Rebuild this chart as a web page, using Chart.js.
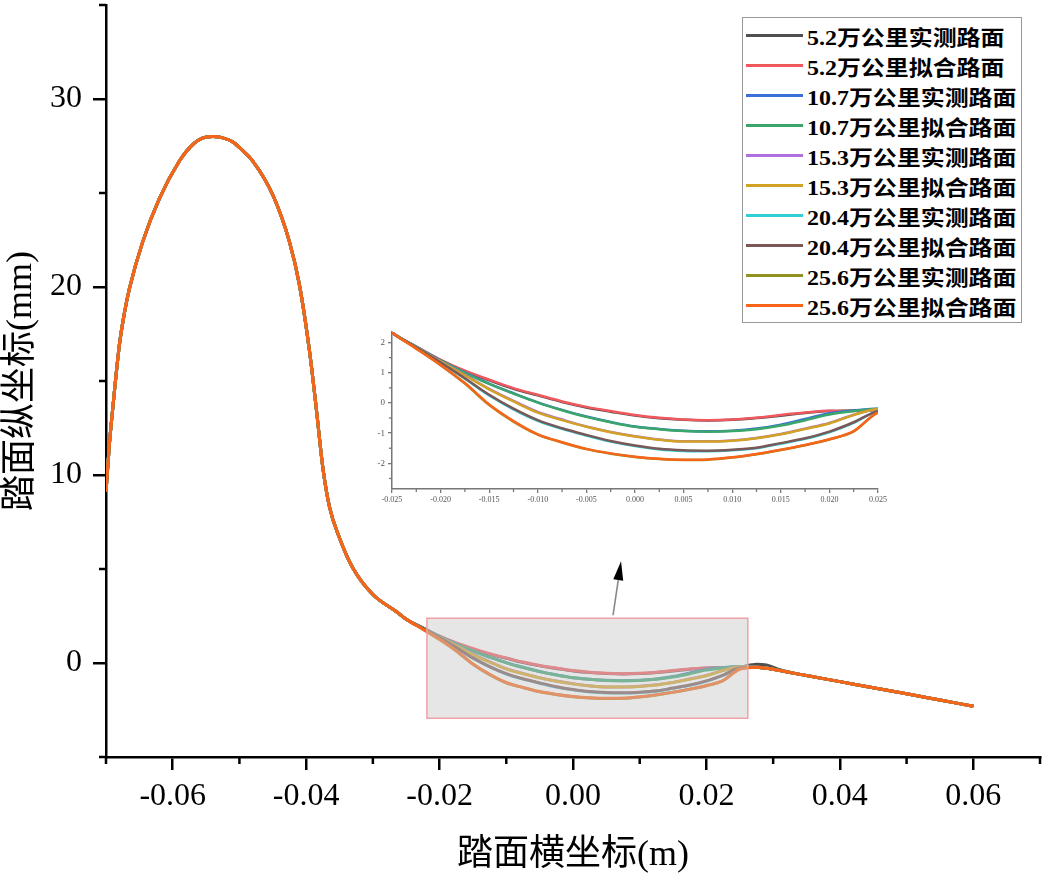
<!DOCTYPE html>
<html>
<head>
<meta charset="utf-8">
<script src="https://cdn.jsdelivr.net/npm/chart.js@4.4.1/dist/chart.umd.min.js"></script>
<style>
    html, body { margin: 0; padding: 0; background: #fff; }
    #wrap { position: relative; width: 1042px; height: 875px; overflow: hidden; }
    #mainChart { position: absolute; left: 0; top: 0; }
    #insetChart { position: absolute; left: 360px; top: 325px; }
    #legend {
        position: absolute; left: 742px; top: 17px; width: 280px; height: 306px;
        border: 1.5px solid #999; background: #fff; box-sizing: border-box;
    }
    #legend .row { position: absolute; left: 0; height: 30px; width: 100%; }
    #legend .swatch { position: absolute; left: 3px; top: 13px; width: 57px; height: 3px; }
    #legend .text {
        position: absolute; left: 64px; top: 0; line-height: 30px; white-space: nowrap;
        font: bold 21px 'Liberation Serif', 'Noto Sans CJK SC', serif; color: #000;
        transform: scaleX(1.14); transform-origin: left center;
    }
</style>
</head>
<body>
<div id="wrap">
    <canvas id="mainChart" width="1042" height="875"></canvas>
    <canvas id="insetChart" width="530" height="190"></canvas>
    <div id="legend"></div>
</div>
<script>
// series names and colours (measured / fitted pairs)
const seriesLabels = [
    '5.2万公里实测路面', '5.2万公里拟合路面',
    '10.7万公里实测路面', '10.7万公里拟合路面',
    '15.3万公里实测路面', '15.3万公里拟合路面',
    '20.4万公里实测路面', '20.4万公里拟合路面',
    '25.6万公里实测路面', '25.6万公里拟合路面'
];
const seriesColors = [
    '#4f4f4f', '#f0585e', '#3a6fd8', '#3aa66a', '#b070e0',
    '#d2a224', '#30cfd8', '#7a5858', '#929222', '#f8641a'
];

// flange part, common to all profiles (x in m, y in mm)
const profileX = [-0.0700, -0.0695, -0.0690, -0.0680, -0.06725, -0.0665, -0.0645, -0.0620, -0.0590,
    -0.0575, -0.0560, -0.0540, -0.0525, -0.0510, -0.0495, -0.0480, -0.0450, -0.0425, -0.0410, -0.0395,
    -0.0385, -0.0375, -0.0365, -0.0350, -0.0330, -0.0300, -0.0265];
const profileY = [9.1, 11.6, 13.5, 16.9, 18.6, 19.9, 22.4, 24.7, 26.7,
    27.4, 27.84, 28.0, 27.93, 27.72, 27.25, 26.7, 24.9, 22.4, 20.1, 16.6,
    13.6, 10.4, 8.3, 6.65, 5.05, 3.64, 2.74];

// worn tread zone
const wearX = [-0.0250, -0.0225, -0.0200, -0.0175, -0.0150, -0.0125, -0.0100, -0.0075, -0.0050, -0.0025,
    0.0000, 0.0025, 0.0050, 0.0075, 0.0100, 0.0125, 0.0150, 0.0175, 0.0200, 0.0225, 0.0250];
const wear52Measured = [2.33, 1.86, 1.42, 1.05, 0.75, 0.47, 0.25, 0.03, -0.15, -0.29,
    -0.42, -0.51, -0.56, -0.58, -0.56, -0.50, -0.42, -0.33, -0.27, -0.25, -0.22];
const wear52Fitted = [2.33, 1.87, 1.43, 1.07, 0.77, 0.49, 0.27, 0.05, -0.13, -0.27,
    -0.40, -0.49, -0.55, -0.57, -0.55, -0.49, -0.40, -0.32, -0.26, -0.27, -0.24];
const wear107Measured = [2.33, 1.86, 1.41, 1.01, 0.64, 0.32, 0.02, -0.23, -0.45, -0.63,
    -0.78, -0.86, -0.92, -0.94, -0.92, -0.85, -0.72, -0.53, -0.34, -0.25, -0.19];
const wear107Fitted = [2.33, 1.86, 1.40, 1.00, 0.63, 0.31, 0.01, -0.24, -0.46, -0.64,
    -0.79, -0.87, -0.93, -0.95, -0.93, -0.87, -0.75, -0.57, -0.38, -0.27, -0.19];
const wear153Measured = [2.33, 1.85, 1.38, 0.93, 0.47, 0.07, -0.30, -0.55, -0.78, -0.96,
    -1.10, -1.21, -1.27, -1.27, -1.24, -1.16, -1.03, -0.85, -0.66, -0.39, -0.21];
const wear153Fitted = [2.33, 1.85, 1.37, 0.91, 0.45, 0.05, -0.32, -0.57, -0.79, -0.97,
    -1.11, -1.22, -1.28, -1.28, -1.25, -1.17, -1.04, -0.86, -0.68, -0.40, -0.21];
const wear204Measured = [2.33, 1.84, 1.33, 0.80, 0.25, -0.21, -0.59, -0.86, -1.08, -1.28,
    -1.43, -1.54, -1.59, -1.60, -1.57, -1.50, -1.35, -1.19, -0.97, -0.66, -0.27];
const wear204Fitted = [2.33, 1.84, 1.34, 0.82, 0.27, -0.19, -0.57, -0.84, -1.06, -1.26,
    -1.41, -1.52, -1.57, -1.58, -1.55, -1.48, -1.33, -1.17, -0.95, -0.64, -0.27];
const wear256Measured = [2.33, 1.80, 1.25, 0.64, -0.07, -0.62, -1.05, -1.31, -1.53, -1.68,
    -1.79, -1.86, -1.89, -1.88, -1.81, -1.70, -1.56, -1.40, -1.21, -0.94, -0.32];
const wear256Fitted = [2.33, 1.80, 1.26, 0.66, -0.05, -0.60, -1.04, -1.30, -1.52, -1.67,
    -1.78, -1.85, -1.88, -1.87, -1.80, -1.69, -1.55, -1.39, -1.20, -0.93, -0.32];

// field side after the worn zone
const tailX = [0.0275, 0.0290, 0.0310, 0.0350, 0.0400, 0.0450, 0.0500, 0.0550, 0.0600];
const tailY = [-0.22, -0.28, -0.40, -0.67, -0.99, -1.32, -1.64, -1.97, -2.30];
const tail52Measured = [-0.07, -0.10, -0.36, -0.67, -0.99, -1.32, -1.64, -1.97, -2.30];

const wearSeries = [wear52Measured, wear52Fitted, wear107Measured, wear107Fitted, wear153Measured,
    wear153Fitted, wear204Measured, wear204Fitted, wear256Measured, wear256Fitted];
const tailSeries = [tail52Measured, tailY, tailY, tailY, tailY, tailY, tailY, tailY, tailY, tailY];

// axis ticks
const xMajorTicks = [-0.06, -0.04, -0.02, 0, 0.02, 0.04, 0.06];
const xMinorTicks = [-0.07, -0.05, -0.03, -0.01, 0.01, 0.03, 0.05, 0.07];
const yMajorTicks = [0, 10, 20, 30];
const yMinorTicks = [-5, 5, 15, 25, 35];
const insetXTicks = [-0.025, -0.02, -0.015, -0.01, -0.005, 0, 0.005, 0.01, 0.015, 0.02, 0.025];
const insetXMinor = [-0.0225, -0.0175, -0.0125, -0.0075, -0.0025, 0.0025, 0.0075, 0.0125, 0.0175, 0.0225];
const insetYTicks = [-2, -1, 0, 1, 2];
const insetYMinor = [-2.5, -1.5, -0.5, 0.5, 1.5];

// zoom frame and arrow, in data units of the main chart
const zoomBox = { xMin: -0.0219, xMax: 0.0262, yMin: -2.94, yMax: 2.38 };
const zoomArrow = { x0: 0.0060, y0: 2.54, x1: 0.0072, y1: 5.41 };

const serif = "'Liberation Serif', 'Noto Sans CJK SC', serif";

function buildPoints(i) {
    const xs = profileX.concat(wearX, tailX);
    const ys = profileY.concat(wearSeries[i], tailSeries[i]);
    return xs.map((x, k) => ({ x: x, y: ys[k] }));
}

function buildDatasets(width) {
    return seriesLabels.map((label, i) => ({
        label: label,
        data: buildPoints(i),
        borderColor: seriesColors[i],
        backgroundColor: seriesColors[i],
        borderWidth: width,
        pointRadius: 0,
        fill: false,
        cubicInterpolationMode: 'monotone',
        order: seriesLabels.length - 1 - i   // later series on top, like Origin
    }));
}

// keep the plot box where it is, no extra room for edge labels
function noEdgePadding(s) {
    s.paddingTop = 0;
    s.paddingBottom = 0;
    s.paddingLeft = 0;
    s.paddingRight = 0;
}

const minorTicksPlugin = {
    id: 'minorTicks',
    afterDraw(chart, args, opts) {
        const ctx = chart.ctx;
        const xs = chart.scales.x;
        const ys = chart.scales.y;
        ctx.save();
        ctx.strokeStyle = opts.color;
        ctx.lineWidth = opts.width;
        (opts.x || []).forEach(v => {
            const px = xs.getPixelForValue(v);
            ctx.beginPath();
            ctx.moveTo(px, chart.chartArea.bottom);
            ctx.lineTo(px, chart.chartArea.bottom + opts.length);
            ctx.stroke();
        });
        (opts.y || []).forEach(v => {
            const py = ys.getPixelForValue(v);
            ctx.beginPath();
            ctx.moveTo(chart.chartArea.left, py);
            ctx.lineTo(chart.chartArea.left - opts.length, py);
            ctx.stroke();
        });
        ctx.restore();
    }
};

const zoomBoxPlugin = {
    id: 'zoomBox',
    afterDatasetsDraw(chart) {
        const ctx = chart.ctx;
        const xs = chart.scales.x;
        const ys = chart.scales.y;
        const l = xs.getPixelForValue(zoomBox.xMin), r = xs.getPixelForValue(zoomBox.xMax);
        const t = ys.getPixelForValue(zoomBox.yMax), b = ys.getPixelForValue(zoomBox.yMin);
        ctx.save();
        ctx.fillStyle = 'rgba(200, 200, 200, 0.45)';
        ctx.fillRect(l, t, r - l, b - t);
        ctx.strokeStyle = '#f0a0a8';
        ctx.lineWidth = 1.5;
        ctx.strokeRect(l, t, r - l, b - t);

        // arrow pointing to the inset
        const x0 = xs.getPixelForValue(zoomArrow.x0), y0 = ys.getPixelForValue(zoomArrow.y0);
        const x1 = xs.getPixelForValue(zoomArrow.x1), y1 = ys.getPixelForValue(zoomArrow.y1);
        const ang = Math.atan2(y1 - y0, x1 - x0);
        const headLen = 19, headW = 5;
        const bx = x1 - headLen * Math.cos(ang), by = y1 - headLen * Math.sin(ang);
        ctx.strokeStyle = '#888';
        ctx.lineWidth = 1.6;
        ctx.beginPath();
        ctx.moveTo(x0, y0);
        ctx.lineTo(bx, by);
        ctx.stroke();
        ctx.fillStyle = '#000';
        ctx.beginPath();
        ctx.moveTo(x1, y1);
        ctx.lineTo(bx + headW * Math.sin(ang), by - headW * Math.cos(ang));
        ctx.lineTo(bx - headW * Math.sin(ang), by + headW * Math.cos(ang));
        ctx.closePath();
        ctx.fill();
        ctx.restore();
    }
};

// main chart
new Chart(document.getElementById('mainChart'), {
    type: 'line',
    data: { datasets: buildDatasets(3) },
    options: {
        responsive: false,
        animation: false,
        layout: { padding: { top: 5, right: 2, left: 0, bottom: 0 } },
        plugins: {
            legend: { display: false },
            tooltip: { enabled: false },
            minorTicks: { x: xMinorTicks, y: yMinorTicks, length: 7, color: '#000', width: 2.5 }
        },
        scales: {
            x: {
                type: 'linear',
                min: -0.07,
                max: 0.07,
                afterBuildTicks: (s) => { s.ticks = xMajorTicks.map(v => ({ value: v })); },
                afterFit: (s) => { s.height = 118; noEdgePadding(s); },
                border: { color: '#000', width: 2.5 },
                grid: { drawOnChartArea: false, color: '#000', lineWidth: 2.5, tickLength: 13 },
                ticks: {
                    callback: (v) => Number(v).toFixed(2),
                    font: { family: serif, size: 32 },
                    color: '#000',
                    padding: 7,
                    maxRotation: 0,
                    autoSkip: false
                },
                title: {
                    display: true,
                    text: '踏面横坐标(m)',
                    font: { family: serif, size: 36, lineHeight: 1.1 },
                    color: '#000',
                    padding: { top: 0, bottom: 0 }
                }
            },
            y: {
                type: 'linear',
                min: -5,
                max: 35,
                afterBuildTicks: (s) => { s.ticks = yMajorTicks.map(v => ({ value: v })); },
                afterFit: (s) => { s.width = 106; noEdgePadding(s); },
                border: { color: '#000', width: 2.5 },
                grid: { drawOnChartArea: false, color: '#000', lineWidth: 2.5, tickLength: 13 },
                ticks: {
                    font: { family: serif, size: 32 },
                    color: '#000',
                    padding: 11
                },
                title: {
                    display: true,
                    text: '踏面纵坐标(mm)',
                    font: { family: serif, size: 36, lineHeight: 1.1 },
                    color: '#000',
                    padding: { top: 2, bottom: 0 }
                }
            }
        }
    },
    plugins: [minorTicksPlugin, zoomBoxPlugin]
});

// inset: enlarged worn zone
new Chart(document.getElementById('insetChart'), {
    type: 'line',
    data: { datasets: buildDatasets(2.5) },
    options: {
        responsive: false,
        animation: false,
        layout: { padding: { top: 7, right: 12, left: 0, bottom: 0 } },
        plugins: {
            legend: { display: false },
            tooltip: { enabled: false },
            minorTicks: { x: insetXMinor, y: insetYMinor, length: 3, color: '#777', width: 1.3 }
        },
        scales: {
            x: {
                type: 'linear',
                min: -0.025,
                max: 0.025,
                afterBuildTicks: (s) => { s.ticks = insetXTicks.map(v => ({ value: v })); },
                afterFit: (s) => { s.height = 26; noEdgePadding(s); },
                border: { color: '#777', width: 1.5 },
                grid: { drawOnChartArea: false, color: '#777', lineWidth: 1.3, tickLength: 4 },
                ticks: {
                    callback: (v) => Number(v).toFixed(3),
                    font: { family: serif, size: 8 },
                    color: '#555',
                    padding: 2,
                    maxRotation: 0,
                    autoSkip: false
                }
            },
            y: {
                type: 'linear',
                min: -2.85,
                max: 2.35,
                afterBuildTicks: (s) => { s.ticks = insetYTicks.map(v => ({ value: v })); },
                afterFit: (s) => { s.width = 32; noEdgePadding(s); },
                border: { color: '#777', width: 1.5 },
                grid: { drawOnChartArea: false, color: '#777', lineWidth: 1.3, tickLength: 4 },
                ticks: {
                    font: { family: serif, size: 9 },
                    color: '#555',
                    padding: 3
                }
            }
        }
    },
    plugins: [minorTicksPlugin]
});

// legend box inside the plot
const legendEl = document.getElementById('legend');
seriesLabels.forEach((label, i) => {
    const row = document.createElement('div');
    row.className = 'row';
    row.style.top = (3 + i * 30) + 'px';
    const sw = document.createElement('div');
    sw.className = 'swatch';
    sw.style.background = seriesColors[i];
    const tx = document.createElement('div');
    tx.className = 'text';
    tx.textContent = label;
    row.appendChild(sw);
    row.appendChild(tx);
    legendEl.appendChild(row);
});
</script>
</body>
</html>
